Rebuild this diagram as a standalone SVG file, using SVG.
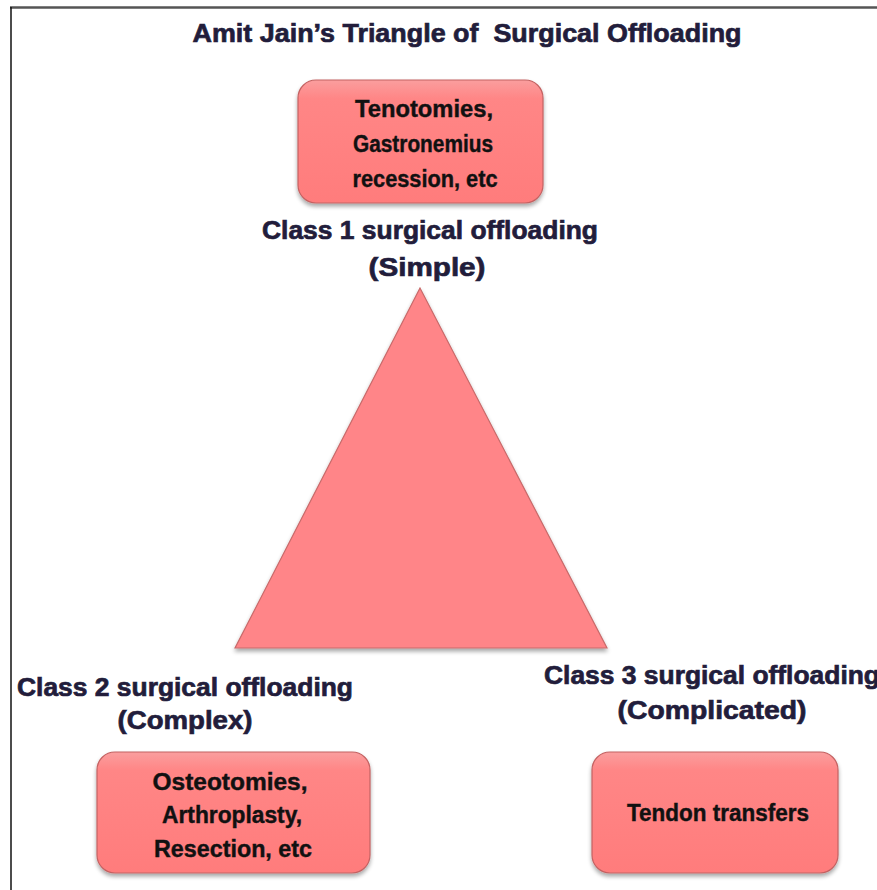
<svg xmlns="http://www.w3.org/2000/svg" width="877" height="890" viewBox="0 0 877 890">
<style>
.title{font-family:"Liberation Sans",Arial,sans-serif;font-weight:bold;fill:#221d3b;stroke:#221d3b;stroke-width:0.7;font-size:26px;text-anchor:middle}
.cls{font-family:"Liberation Sans",Arial,sans-serif;font-weight:bold;fill:#221d3b;stroke:#221d3b;stroke-width:0.7;font-size:26px;text-anchor:middle}
.bt{font-family:"Liberation Sans",Arial,sans-serif;font-weight:bold;fill:#111;stroke:#111;stroke-width:0.4;font-size:23px;text-anchor:middle}
.box{fill:url(#bg);stroke:#c46262;stroke-width:1.2;filter:url(#sh)}
</style>
<defs>
<linearGradient id="bg" x1="0" y1="0" x2="0" y2="1">
<stop offset="0" stop-color="#fa9e9e"/>
<stop offset="0.15" stop-color="#ff8686"/>
<stop offset="1" stop-color="#ff7c7c"/>
</linearGradient>
<filter id="sh" x="-10%" y="-10%" width="120%" height="130%">
<feGaussianBlur in="SourceAlpha" stdDeviation="2"/>
<feOffset dy="3"/>
<feComponentTransfer><feFuncA type="linear" slope="0.35"/></feComponentTransfer>
<feMerge><feMergeNode/><feMergeNode in="SourceGraphic"/></feMerge>
</filter>
</defs>
<rect width="877" height="890" fill="#fff"/>
<line x1="10" y1="7.5" x2="877" y2="7.5" stroke="#555" stroke-width="2.5"/>
<line x1="11" y1="7" x2="11" y2="890" stroke="#111" stroke-width="1.5"/>
<text class="title" x="467" y="42" textLength="549" lengthAdjust="spacingAndGlyphs" xml:space="preserve">Amit Jain’s Triangle of  Surgical Offloading</text>
<g id="triangle">
<polygon points="420,288 235,648 607,648" fill="#ff8588" stroke="#c86a6a" stroke-width="1.2" filter="url(#sh)"/>
</g>
<g id="class1">
<rect class="box" x="298" y="80" width="245" height="123" rx="18"/>
<text class="bt" x="424" y="117" textLength="138" lengthAdjust="spacingAndGlyphs">Tenotomies,</text>
<text class="bt" x="423" y="152" textLength="140" lengthAdjust="spacingAndGlyphs">Gastronemius</text>
<text class="bt" x="425" y="187" textLength="145" lengthAdjust="spacingAndGlyphs">recession, etc</text>
<text class="cls" x="430" y="239" textLength="336" lengthAdjust="spacingAndGlyphs">Class 1 surgical offloading</text>
<text class="cls" x="427" y="276" textLength="117" lengthAdjust="spacingAndGlyphs">(Simple)</text>
</g>
<g id="class2">
<text class="cls" x="185" y="696" textLength="336" lengthAdjust="spacingAndGlyphs">Class 2 surgical offloading</text>
<text class="cls" x="185" y="729" textLength="135" lengthAdjust="spacingAndGlyphs">(Complex)</text>
<rect class="box" x="97" y="752" width="273" height="121" rx="18"/>
<text class="bt" x="230" y="790" textLength="155" lengthAdjust="spacingAndGlyphs">Osteotomies,</text>
<text class="bt" x="232" y="823" textLength="140" lengthAdjust="spacingAndGlyphs">Arthroplasty,</text>
<text class="bt" x="233" y="857" textLength="158" lengthAdjust="spacingAndGlyphs">Resection, etc</text>
</g>
<g id="class3">
<text class="cls" x="712" y="684" textLength="336" lengthAdjust="spacingAndGlyphs">Class 3 surgical offloading</text>
<text class="cls" x="712" y="719" textLength="189" lengthAdjust="spacingAndGlyphs">(Complicated)</text>
<rect class="box" x="592" y="752" width="246" height="121" rx="18"/>
<text class="bt" x="718" y="821" textLength="182" lengthAdjust="spacingAndGlyphs">Tendon transfers</text>
</g>
<g id="connectors"/>
</svg>
